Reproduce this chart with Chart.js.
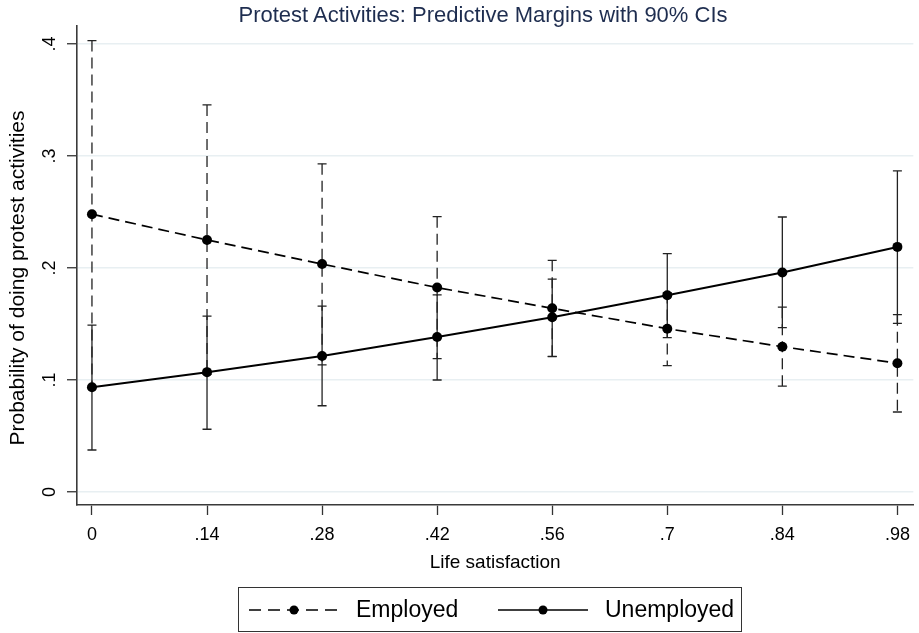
<!DOCTYPE html>
<html>
<head>
<meta charset="utf-8">
<script src="https://cdn.jsdelivr.net/npm/chart.js@4"></script>
<style>
  html, body { margin: 0; padding: 0; background: #fff; }
  #wrap { position: relative; width: 919px; height: 633px; font-family: "Liberation Sans", Arial, sans-serif; }
  #chart { position: absolute; left: 0; top: 0; }
  #title {
    position: absolute; left: 0; top: 2px; width: 966px; text-align: center;
    font-size: 22px; color: #1e2d4f; white-space: nowrap;
  }
  #ytitle {
    position: absolute; left: 17px; top: 278px; width: 400px; margin-left: -200px; margin-top: -12px;
    height: 24px; line-height: 24px; text-align: center; transform: rotate(-90deg);
    font-size: 21px; color: #000; white-space: nowrap;
  }
  #legend {
    position: absolute; left: 238px; top: 587px; width: 502px; height: 43px;
    border: 1px solid #333; box-sizing: content-box;
  }
  .item { position: absolute; top: 0; height: 43px; display: flex; align-items: center; font-size: 23px; color: #000; }
  .item svg { margin-right: 17px; }
</style>
</head>
<body>
<div id="wrap">
  <canvas id="chart" width="919" height="633"></canvas>
  <div id="title">Protest Activities: Predictive Margins with 90% CIs</div>
  <div id="ytitle">Probability of doing protest activities</div>
  <div id="legend">
    <div class="item" style="left:10px">
      <svg width="90" height="12"><line x1="0" y1="6" x2="90" y2="6" stroke="#000" stroke-width="1.5" stroke-dasharray="12,7"/><circle cx="45" cy="6" r="4.5" fill="#000"/></svg>
      <span>Employed</span>
    </div>
    <div class="item" style="left:259px">
      <svg width="90" height="12"><line x1="0" y1="6" x2="90" y2="6" stroke="#000" stroke-width="1.5"/><circle cx="45" cy="6" r="4.5" fill="#000"/></svg>
      <span>Unemployed</span>
    </div>
  </div>
</div>
<script>
/* ---------- data ---------- */
const lifeSatisfaction = [0, 0.14, 0.28, 0.42, 0.56, 0.70, 0.84, 0.98];
const xTickLabels = ["0", ".14", ".28", ".42", ".56", ".7", ".84", ".98"];
const yTicks = [0, 0.1, 0.2, 0.3, 0.4];
const yTickLabels = ["0", ".1", ".2", ".3", ".4"];

const employedMargin = [0.248, 0.225, 0.2035, 0.1825, 0.164, 0.1458, 0.1297, 0.115];
const employedLo     = [0.093, 0.105, 0.1135, 0.119, 0.121, 0.1128, 0.0946, 0.0714];
const employedHi     = [0.403, 0.3455, 0.293, 0.2458, 0.2068, 0.178, 0.165, 0.1583];

const unemployedMargin = [0.0935, 0.107, 0.1214, 0.1384, 0.156, 0.1756, 0.196, 0.2188];
const unemployedLo     = [0.0375, 0.056, 0.077, 0.100, 0.1208, 0.1378, 0.1467, 0.1506];
const unemployedHi     = [0.149, 0.157, 0.166, 0.176, 0.190, 0.2128, 0.2455, 0.2866];

/* ---------- helpers ---------- */
function toPoints(ys) {
  return lifeSatisfaction.map((x, i) => ({ x: x, y: ys[i] }));
}

/* draws the 90% CI whiskers under the lines */
const ciPlugin = {
  id: "ciBars",
  beforeDatasetsDraw(chart) {
    const ctx = chart.ctx;
    const xs = chart.scales.x, ys = chart.scales.y;
    chart.data.datasets.forEach((ds) => {
      ctx.save();
      ctx.strokeStyle = "#222";
      ctx.lineWidth = 1.3;
      lifeSatisfaction.forEach((v, i) => {
        const px = xs.getPixelForValue(v);
        const top = ys.getPixelForValue(ds.ciHi[i]);
        const bot = ys.getPixelForValue(ds.ciLo[i]);
        ctx.setLineDash(ds.borderDash || []);
        ctx.beginPath();
        ctx.moveTo(px, top);
        ctx.lineTo(px, bot);
        ctx.stroke();
        ctx.setLineDash([]);
        ctx.beginPath();
        ctx.moveTo(px - 4.5, top); ctx.lineTo(px + 4.5, top);
        ctx.moveTo(px - 4.5, bot); ctx.lineTo(px + 4.5, bot);
        ctx.stroke();
      });
      ctx.restore();
    });
  }
};

/* ---------- chart ---------- */
new Chart(document.getElementById("chart"), {
  type: "line",
  data: {
    datasets: [
      {
        label: "Employed",
        data: toPoints(employedMargin),
        ciLo: employedLo, ciHi: employedHi,
        borderColor: "#000", borderWidth: 1.7, borderDash: [11, 6],
        pointRadius: 5, pointBackgroundColor: "#000", pointBorderWidth: 0,
        tension: 0
      },
      {
        label: "Unemployed",
        data: toPoints(unemployedMargin),
        ciLo: unemployedLo, ciHi: unemployedHi,
        borderColor: "#000", borderWidth: 2,
        pointRadius: 5, pointBackgroundColor: "#000", pointBorderWidth: 0,
        tension: 0
      }
    ]
  },
  options: {
    responsive: false,
    animation: false,
    layout: { padding: { left: 0, top: 26, right: 4, bottom: 59 } },
    plugins: {
      legend: { display: false },
      tooltip: { enabled: false },
      title: { display: false }
    },
    scales: {
      x: {
        type: "linear",
        min: -0.0182, max: 0.9994,
        afterBuildTicks: (s) => { s.ticks = lifeSatisfaction.map(v => ({ value: v })); },
        afterFit: (s) => { s.height = 69; },
        ticks: {
          autoSkip: false, maxRotation: 0, minRotation: 0, padding: 9,
          color: "#000",
          font: { family: "Liberation Sans", size: 18 },
          callback: (v, i) => xTickLabels[i]
        },
        grid: { drawOnChartArea: false, drawTicks: true, tickLength: 10, tickColor: "#333", tickWidth: 1.3 },
        border: { display: true, color: "#3a3a3a", width: 1.6 },
        title: {
          display: true, text: "Life satisfaction", color: "#000",
          font: { family: "Liberation Sans", size: 19 }, padding: 0
        }
      },
      y: {
        type: "linear",
        min: -0.0116, max: 0.416,
        afterBuildTicks: (s) => { s.ticks = yTicks.map(v => ({ value: v })); },
        afterFit: (s) => { s.width = 77; },
        ticks: {
          autoSkip: false, minRotation: 90, maxRotation: 90,
          crossAlign: "center", padding: 9,
          color: "#000",
          font: { family: "Liberation Sans", size: 18 },
          callback: (v, i) => yTickLabels[i]
        },
        grid: { color: "#e8eff2", lineWidth: 1.5, drawTicks: true, tickLength: 10, tickColor: "#333", tickWidth: 1.3 },
        border: { display: true, color: "#3a3a3a", width: 1.6 },
        title: { display: false }
      }
    }
  },
  plugins: [ciPlugin]
});
</script>
</body>
</html>
